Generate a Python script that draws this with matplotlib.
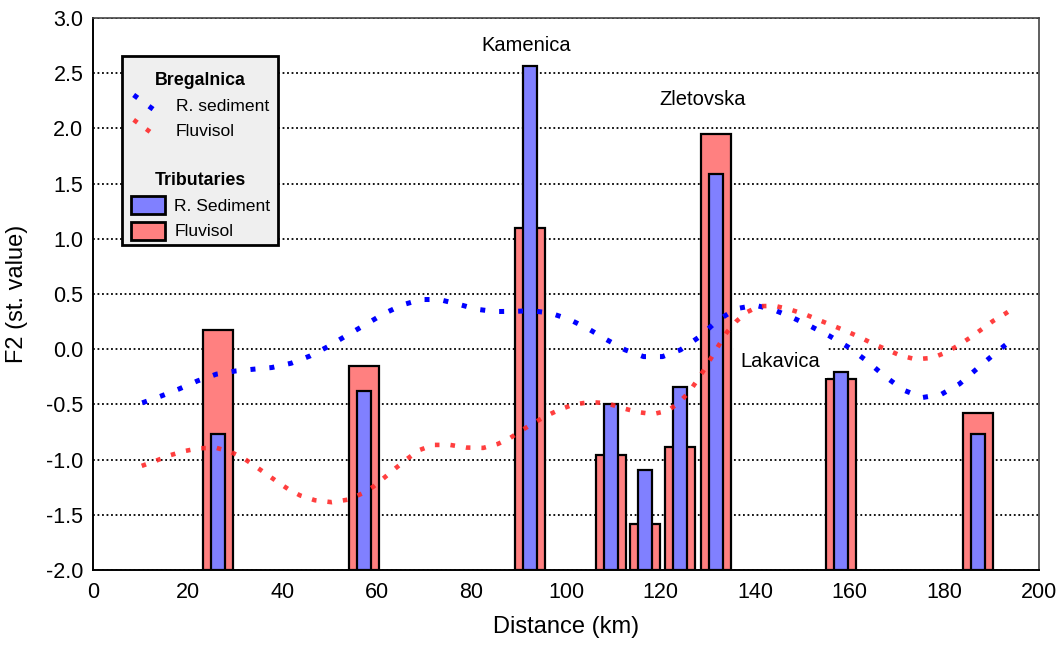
import numpy as np
import matplotlib
matplotlib.use('Agg')
import matplotlib.pyplot as plt
from matplotlib.lines import Line2D
from matplotlib.patches import Patch, Rectangle
from matplotlib.legend_handler import HandlerLine2D

plt.rcParams['font.family'] = ['Liberation Sans', 'DejaVu Sans']

# Bregalnica main river, smoothed profiles (distance in km, F2 score)
breg_sed_km = [10.4, 14.3, 18.2, 22.1, 26.1, 30.2, 34.0, 37.8, 41.9, 45.9, 49.7, 53.6,
               57.5, 61.4, 65.4, 69.3, 73.2, 77.2, 81.1, 85.0, 88.9, 92.9, 96.8, 100.8,
               104.7, 108.6, 112.5, 116.4, 120.4, 124.2, 128.2, 132.1, 136.0, 140.0,
               143.8, 147.7, 151.7, 155.7, 159.6, 163.6, 167.4, 171.4, 175.3, 179.3,
               183.2, 187.1, 191.0, 194.9]
breg_sed_f2 = [-0.486, -0.426, -0.36, -0.287, -0.226, -0.197, -0.181, -0.166, -0.127,
               -0.061, 0.024, 0.124, 0.22, 0.32, 0.401, 0.45, 0.45, 0.408, 0.362, 0.341,
               0.343, 0.348, 0.326, 0.268, 0.185, 0.086, -0.006, -0.067, -0.067, -0.006,
               0.112, 0.262, 0.367, 0.398, 0.359, 0.29, 0.208, 0.12, 0.021, -0.106,
               -0.245, -0.371, -0.438, -0.41, -0.314, -0.169, -0.027, 0.106]

breg_flu_km = [10.3, 13.2, 16.1, 19.2, 22.4, 26.1, 29.1, 31.8, 34.2, 36.6, 39.0, 41.3,
               43.8, 46.9, 50.5, 54.0, 56.9, 59.2, 61.6, 64.0, 66.4, 68.9, 72.0, 75.5,
               78.9, 82.5, 85.6, 88.2, 90.7, 93.2, 95.7, 98.5, 101.5, 105.1, 108.6,
               112.0, 115.1, 118.4, 121.6, 124.0, 126.0, 127.7, 129.3, 130.9, 132.4,
               134.0, 136.0, 138.1, 140.8, 144.2, 147.3, 150.3, 153.2, 156.2, 159.3,
               162.1, 164.7, 167.6, 170.7, 173.9, 177.4, 180.5, 183.1, 185.6, 188.0,
               190.3, 192.9, 195.3]
breg_flu_f2 = [-1.057, -1.012, -0.963, -0.924, -0.897, -0.894, -0.930, -0.987, -1.057,
               -1.129, -1.202, -1.268, -1.325, -1.368, -1.386, -1.362, -1.307, -1.247,
               -1.163, -1.077, -0.994, -0.915, -0.867, -0.867, -0.891, -0.894, -0.858,
               -0.804, -0.733, -0.668, -0.607, -0.550, -0.502, -0.479, -0.489, -0.534,
               -0.569, -0.588, -0.556, -0.479, -0.390, -0.284, -0.179, -0.064, 0.042,
               0.153, 0.252, 0.332, 0.39, 0.392, 0.36, 0.32, 0.269, 0.217, 0.163,
               0.109, 0.054, 0.0, -0.057, -0.091, -0.079, -0.027, 0.039, 0.109, 0.184,
               0.256, 0.323, 0.39]

# tributaries
trib_km = [26.4, 57.3, 92.4, 109.5, 116.7, 124.1, 131.7, 158.2, 187.1]
trib_flu = [0.174, -0.152, 1.10, -0.96, -1.58, -0.885, 1.95, -0.273, -0.575]
trib_sed = [-0.768, -0.376, 2.565, -0.495, -1.093, -0.339, 1.585, -0.204, -0.771]

names = ['Kamenica', 'Zletovska', 'Lakavica']
name_x = [91.6, 128.8, 145.3]
name_y = [2.75, 2.26, -0.11]

ymin = -2.0


class HandlerDiagonal(HandlerLine2D):
    # short diagonal sample line, top-left to bottom-right
    def create_artists(self, legend, orig_handle, xdescent, ydescent,
                       width, height, fontsize, trans):
        x0 = -xdescent + 0.05 * width
        x1 = x0 + 0.66 * width
        line = Line2D([x0, x1], [-ydescent + height * 1.3, -ydescent - height * 0.05])
        self.update_prop(line, orig_handle, legend)
        line.set_transform(trans)
        return [line]


fig = plt.figure(figsize=(10.59, 6.48), dpi=100)
ax = fig.add_axes([93 / 1059, 78 / 648, 946 / 1059, 552 / 648])

ax.bar(trib_km, np.array(trib_flu) - ymin, bottom=ymin, width=6.4,
       color='#ff8080', edgecolor='black', linewidth=1.6, zorder=2)
ax.bar(trib_km, np.array(trib_sed) - ymin, bottom=ymin, width=3.0,
       color='#8080ff', edgecolor='black', linewidth=1.6, zorder=2)

blue_line, = ax.plot(breg_sed_km, breg_sed_f2, color='#0000ff', lw=3.6,
                     linestyle=(0, (1, 2.8)), dash_capstyle='butt', zorder=3)
red_line, = ax.plot(breg_flu_km, breg_flu_f2, color='#ff2a2a', lw=3.3, alpha=0.9,
                    linestyle=(0, (1, 2.4)), dash_capstyle='butt', zorder=3)

for n, x, y in zip(names, name_x, name_y):
    kw = {}
    if n == 'Lakavica':
        kw['bbox'] = dict(facecolor='white', edgecolor='none', pad=5)
    ax.text(x, y, n, ha='center', va='center', fontsize=14.5, zorder=2.5, **kw)

ax.set_xlim(0, 200)
ax.set_ylim(-2.0, 3.0)
ax.set_xticks(np.arange(0, 201, 20))
ax.set_yticks(np.arange(-2.0, 3.01, 0.5))
ax.set_yticklabels(['%.1f' % v for v in np.arange(-2.0, 3.01, 0.5)])
ax.tick_params(axis='both', length=0, labelsize=15.5)
ax.tick_params(axis='y', pad=7)
ax.tick_params(axis='x', pad=9)
ax.yaxis.grid(True, color='black', linestyle=(0, (1, 1.5)), lw=1.3)
ax.set_axisbelow(True)

for s in ['left', 'bottom']:
    ax.spines[s].set_linewidth(1.4)
    ax.spines[s].set_color('black')
for s in ['top', 'right']:
    ax.spines[s].set_linewidth(1.2)
    ax.spines[s].set_color('#444444')

ax.set_xlabel('Distance (km)', fontsize=17, labelpad=9)
ax.set_ylabel('F2 (st. value)', fontsize=17, labelpad=13)

# legend: grey box holding two stacked groups
ax.add_patch(Rectangle((0.031, 0.589), 0.165, 0.342, transform=ax.transAxes,
                       facecolor='#efefef', edgecolor='black', lw=2, zorder=6))

leg1 = ax.legend([blue_line, red_line], ['R. sediment', 'Fluvisol'],
                 title='Bregalnica', title_fontproperties={'weight': 'bold', 'size': 12.8},
                 fontsize=12.6, frameon=False, loc='upper center',
                 bbox_to_anchor=(0.1136, 0.918), borderpad=0, handlelength=1.95,
                 handletextpad=0.55, labelspacing=0.55,
                 handler_map={Line2D: HandlerDiagonal()})
leg1.set_zorder(7)
ax.add_artist(leg1)

leg2 = ax.legend([Patch(facecolor='#8080ff', edgecolor='black', lw=2),
                  Patch(facecolor='#ff8080', edgecolor='black', lw=2)],
                 ['R. Sediment', 'Fluvisol'],
                 title='Tributaries', title_fontproperties={'weight': 'bold', 'size': 12.8},
                 fontsize=12.6, frameon=False, loc='upper center',
                 bbox_to_anchor=(0.1136, 0.737), borderpad=0, handlelength=1.95,
                 handleheight=1.2, handletextpad=0.55, labelspacing=0.42)
leg2.set_zorder(7)

fig.savefig('out.png', dpi=100)
